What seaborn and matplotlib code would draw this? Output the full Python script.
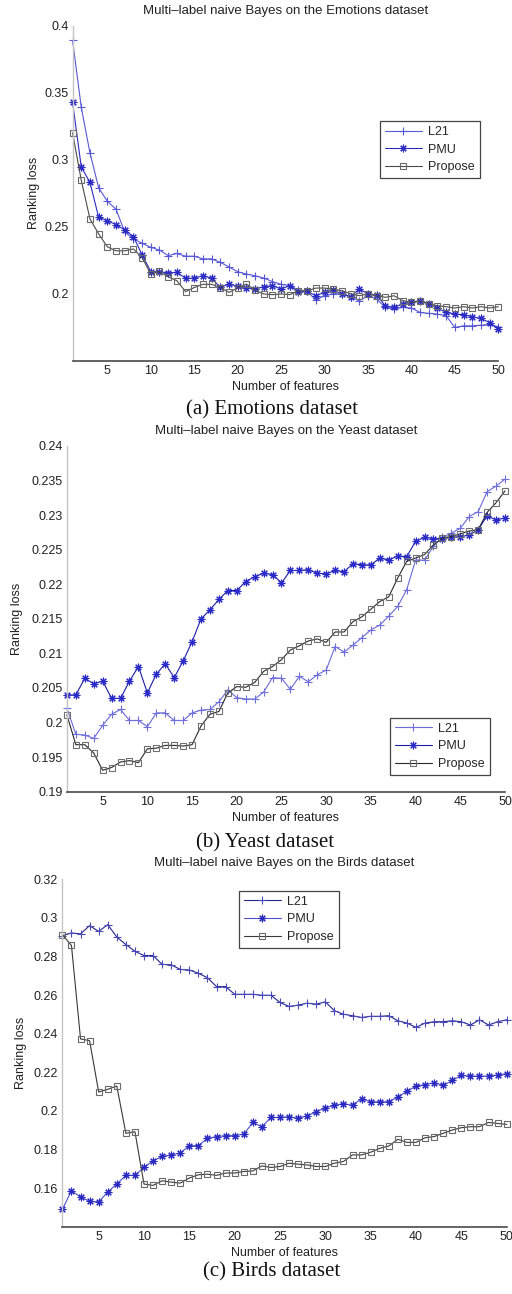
import numpy as np
import pandas as pd
import matplotlib
matplotlib.use("Agg")
import matplotlib.pyplot as plt
import seaborn as sns

features = list(range(1, 51))
series_names = ["L21", "PMU", "Propose"]

emo_l21 = [0.389, 0.339, 0.305, 0.279, 0.269, 0.263, 0.246, 0.241, 0.2376, 0.2346,
           0.2326, 0.2284, 0.230, 0.228, 0.228, 0.226, 0.226, 0.2234, 0.220, 0.2164,
           0.2147, 0.2134, 0.2117, 0.209, 0.207, 0.206, 0.2027, 0.2017, 0.1953, 0.1985,
           0.1998, 0.200, 0.1973, 0.1948, 0.1985, 0.196, 0.1898, 0.1885, 0.1898, 0.1893,
           0.186, 0.1853, 0.1848, 0.1835, 0.1748, 0.176, 0.176, 0.1765, 0.177, 0.1753]
emo_pmu = [0.3427, 0.2945, 0.283, 0.257, 0.2545, 0.2516, 0.2476, 0.2426, 0.229, 0.2165,
           0.2165, 0.2155, 0.2159, 0.2115, 0.2115, 0.2135, 0.2115, 0.2047, 0.2072, 0.2055,
           0.2042, 0.2035, 0.2052, 0.206, 0.2035, 0.206, 0.201, 0.2017, 0.1985, 0.201,
           0.2027, 0.1998, 0.1978, 0.2035, 0.1998, 0.199, 0.191, 0.1898, 0.1923, 0.1935,
           0.1948, 0.1923, 0.1893, 0.186, 0.1848, 0.1843, 0.1828, 0.1815, 0.1785, 0.1736]
emo_prop = [0.32, 0.2845, 0.2558, 0.2446, 0.235, 0.232, 0.232, 0.2334, 0.227, 0.2147,
            0.2166, 0.2126, 0.2097, 0.2016, 0.2046, 0.207, 0.207, 0.2046, 0.201, 0.2042,
            0.2072, 0.2027, 0.1998, 0.1993, 0.1998, 0.1993, 0.2022, 0.2022, 0.2042, 0.2042,
            0.2035, 0.2022, 0.2, 0.1985, 0.1998, 0.1985, 0.1973, 0.1985, 0.1948, 0.1935,
            0.1943, 0.1923, 0.191, 0.1903, 0.1893, 0.1903, 0.1893, 0.1903, 0.1893, 0.1903]

yeast_l21 = [0.2021, 0.1983, 0.1982, 0.1977, 0.1996, 0.2012, 0.2019, 0.2003, 0.2003, 0.1994,
             0.2014, 0.2014, 0.2003, 0.2003, 0.2014, 0.2018, 0.2019, 0.203, 0.2047, 0.2036,
             0.2034, 0.2034, 0.2044, 0.2065, 0.2064, 0.2048, 0.2067, 0.2059, 0.2069, 0.2076,
             0.2110, 0.2102, 0.2112, 0.2123, 0.2134, 0.2141, 0.2154, 0.2168, 0.2192, 0.2235,
             0.2235, 0.2255, 0.2268, 0.2274, 0.2281, 0.2298, 0.2305, 0.2334, 0.2342, 0.2352]
yeast_pmu = [0.204, 0.204, 0.2064, 0.2056, 0.206, 0.2035, 0.2035, 0.206, 0.2081, 0.2043,
             0.207, 0.2085, 0.2065, 0.2089, 0.2117, 0.215, 0.2163, 0.2178, 0.2191, 0.2191,
             0.2204, 0.2211, 0.2216, 0.2214, 0.2202, 0.222, 0.222, 0.2221, 0.2216, 0.2215,
             0.222, 0.2218, 0.223, 0.2228, 0.2228, 0.2238, 0.2235, 0.2241, 0.224, 0.2262,
             0.2268, 0.2266, 0.2266, 0.2268, 0.2269, 0.2271, 0.2279, 0.2299, 0.2293, 0.2296]
yeast_prop = [0.2011, 0.1968, 0.1968, 0.1956, 0.1931, 0.1935, 0.1943, 0.1945, 0.1942, 0.1962,
              0.1963, 0.1967, 0.1967, 0.1966, 0.1968, 0.1995, 0.2012, 0.2016, 0.2043, 0.2052,
              0.2051, 0.2058, 0.2074, 0.2081, 0.2091, 0.2105, 0.2111, 0.2118, 0.2121, 0.2116,
              0.2131, 0.2131, 0.2146, 0.2153, 0.2164, 0.2175, 0.2182, 0.2209, 0.2233, 0.2238,
              0.2243, 0.2257, 0.2267, 0.2269, 0.2273, 0.2277, 0.2279, 0.2304, 0.2318, 0.2335]

birds_l21 = [0.2908, 0.2922, 0.2917, 0.296, 0.293, 0.2965, 0.2901, 0.2862, 0.2827, 0.2805,
             0.2805, 0.2759, 0.2757, 0.2733, 0.273, 0.2713, 0.269, 0.2644, 0.2644, 0.2604,
             0.2604, 0.2604, 0.2599, 0.2599, 0.2562, 0.2541, 0.2548, 0.2558, 0.2553, 0.2565,
             0.2519, 0.2501, 0.2493, 0.2484, 0.249, 0.249, 0.2493, 0.2467, 0.2455, 0.2433,
             0.2455, 0.2462, 0.2462, 0.2467, 0.2462, 0.2445, 0.2472, 0.2445, 0.2462, 0.2472]
birds_pmu = [0.149, 0.1587, 0.1553, 0.1532, 0.1528, 0.158, 0.1621, 0.1666, 0.1666, 0.1707,
             0.1741, 0.1764, 0.1772, 0.1781, 0.182, 0.182, 0.1858, 0.1867, 0.1872, 0.1872,
             0.1879, 0.194, 0.1918, 0.1966, 0.1966, 0.197, 0.1961, 0.1975, 0.1995, 0.2016,
             0.2029, 0.2038, 0.2029, 0.2064, 0.2047, 0.2047, 0.2047, 0.2073, 0.2101, 0.2129,
             0.2136, 0.2146, 0.2132, 0.2158, 0.2184, 0.218, 0.218, 0.218, 0.2186, 0.2193]
birds_prop = [0.2913, 0.2857, 0.2373, 0.2364, 0.2098, 0.2112, 0.2129, 0.1884, 0.1892, 0.1621,
              0.1614, 0.1638, 0.1631, 0.1626, 0.1652, 0.1669, 0.1672, 0.1666, 0.1678, 0.1678,
              0.1686, 0.1689, 0.1715, 0.1707, 0.1712, 0.1729, 0.1724, 0.172, 0.1712, 0.1712,
              0.1729, 0.1738, 0.1772, 0.1772, 0.1786, 0.1806, 0.1818, 0.1853, 0.1837, 0.1837,
              0.1861, 0.1867, 0.1884, 0.1901, 0.1913, 0.1918, 0.1918, 0.194, 0.1935, 0.193]

titles = ["Multi\u2013label naive Bayes on the Emotions dataset",
          "Multi\u2013label naive Bayes on the Yeast dataset",
          "Multi\u2013label naive Bayes on the Birds dataset"]
captions = ["(a) Emotions dataset", "(b) Yeast dataset", "(c) Birds dataset"]
xticks = [5, 10, 15, 20, 25, 30, 35, 40, 45, 50]
yticks_list = [[0.2, 0.25, 0.3, 0.35, 0.4],
               [0.19, 0.195, 0.2, 0.205, 0.21, 0.215, 0.22, 0.225, 0.23, 0.235, 0.24],
               [0.16, 0.18, 0.2, 0.22, 0.24, 0.26, 0.28, 0.3, 0.32]]
ylims = [(0.15, 0.4), (0.19, 0.24), (0.14, 0.32)]

sns.set_style("white")
plt.rcParams['font.family'] = ['Liberation Sans', 'DejaVu Sans']

W, H = 512, 1294
fig = plt.figure(figsize=(W / 100, H / 100), dpi=100)

# axes boxes in pixels: (left, right, top, bottom)
boxes = [(72.6, 498.3, 25.7, 360.7), (66.9, 505.0, 446.0, 791.7), (62.4, 506.7, 879.3, 1226.7)]
title_y = [11, 431, 863]
caption_pos = [(272, 410), (265, 843), (272, 1272)]
ylabel_x = [40, 23, 27]
legend_anchor = [(0.957, 0.7155), (0.966, 0.214), (0.6226, 0.967)]

data = [(emo_l21, emo_pmu, emo_prop), (yeast_l21, yeast_pmu, yeast_prop),
        (birds_l21, birds_pmu, birds_prop)]
colors = [
    {"L21": ("#5858d6", "#5858d6"), "PMU": ("#2b2bc4", "#2b2bc4"), "Propose": ("#4a4a4a", "#6a6a6a")},
    {"L21": ("#6a6ad8", "#7070dc"), "PMU": ("#1c1ca6", "#2a2ac8"), "Propose": ("#2a2a2a", "#707070")},
    {"L21": ("#25258f", "#4a4ab8"), "PMU": ("#5050cc", "#2a2ac0"), "Propose": ("#3a3a3a", "#6a6a6a")},
]
markers = {"L21": "+", "PMU": (8, 2, 0), "Propose": "s"}
msizes = {"L21": 6, "PMU": 5.5, "Propose": 4.8}

for i in range(3):
    l, r, t, b = boxes[i]
    ax = fig.add_axes([l / W, 1 - b / H, (r - l) / W, (b - t) / H])
    for name, vals in zip(series_names, data[i]):
        lc, mc = colors[i][name]
        kw = dict(marker=markers[name], markersize=msizes[name], markeredgecolor=mc,
                  markeredgewidth=0.8, clip_on=False)
        if name == "Propose":
            kw["markerfacecolor"] = "none"
        else:
            kw["markerfacecolor"] = mc
        sns.lineplot(x=features, y=vals, ax=ax, color=lc, linewidth=0.8, label=name, **kw)
    ax.set_xlim(1, 50)
    ax.set_ylim(*ylims[i])
    ax.set_xticks(xticks)
    ax.set_yticks(yticks_list[i])
    ax.set_yticklabels([("%g" % v) for v in yticks_list[i]])
    ax.tick_params(direction='in', length=3, color='#aaaaaa', labelsize=9, pad=3,
                   labelcolor='#222222')
    for s in ['top', 'right']:
        ax.spines[s].set_visible(False)
    ax.spines['left'].set_color('#c4c4c4')
    ax.spines['left'].set_linewidth(1.0)
    ax.spines['bottom'].set_color('#4a4a4a')
    ax.spines['bottom'].set_linewidth(1.2)
    ax.set_xlabel("Number of features", fontsize=9, color='#222222')
    ax.xaxis.set_label_coords(0.5, -20 / (b - t))
    ax.set_ylabel("Ranking loss", fontsize=9, color='#222222')
    ax.yaxis.set_label_coords((ylabel_x[i] - l) / (r - l), 0.5)
    leg = ax.legend(loc='upper right', bbox_to_anchor=legend_anchor[i], fontsize=9,
                    frameon=True, fancybox=False, framealpha=1, edgecolor='#444444',
                    handlelength=3.0, handletextpad=0.5, borderpad=0.4, labelspacing=0.45,
                    borderaxespad=0)
    leg.get_frame().set_linewidth(0.9)
    fig.text(((l + r) / 2) / W, 1 - title_y[i] / H, titles[i], ha='center', va='center',
             fontsize=9.5, color='#222222')
    cx, cy = caption_pos[i]
    fig.text(cx / W, 1 - cy / H, captions[i], ha='center', va='center', fontsize=15,
             family=['Liberation Serif', 'DejaVu Serif'], color='#111111')

fig.savefig("out.png", dpi=100)
